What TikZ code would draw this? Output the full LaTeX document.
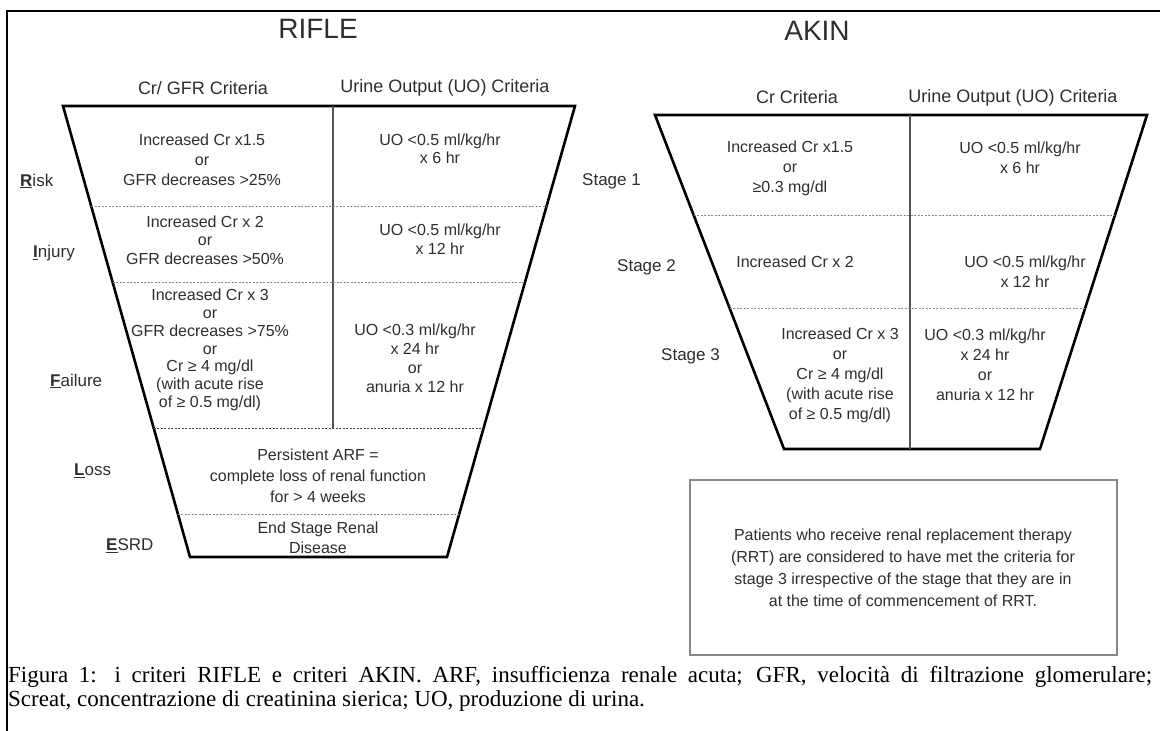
\documentclass[tikz,border=0pt]{standalone}
\usepackage{fontspec}
\setmainfont{Liberation Serif}
\setsansfont{Liberation Sans}
\usetikzlibrary{positioning}
\definecolor{txtgray}{HTML}{2E2E2E}
\definecolor{divgray}{HTML}{555555}
\definecolor{dashgray}{HTML}{8A8A8A}

\begin{document}
\begin{tikzpicture}[x=1pt,y=-1pt,
    title/.style={font=\sffamily\fontsize{28}{30}\selectfont, text=txtgray, inner sep=0pt},
    colhead/.style={font=\sffamily\fontsize{18}{20}\selectfont, text=txtgray, inner sep=0pt},
    cell/.style={font=\sffamily\fontsize{16}{18.5}\selectfont, text=txtgray, align=center, inner sep=0pt},
    stage/.style={font=\sffamily\fontsize{17}{19}\selectfont, text=txtgray, anchor=west, inner sep=0pt},
    funnel/.style={line width=2.6pt, line join=miter},
    split/.style={divgray, line width=1.2pt},
    level/.style={dashgray, line width=0.9pt, dash pattern=on 2pt off 1.5pt}]
    \useasboundingbox (0,0) rectangle (1160,731);

    % Border
    \draw[line width=2.6pt] (7,731) -- (7,11) -- (1160,11);

    % RIFLE funnel
    \draw[funnel] (63,106) -- (575,106) -- (447,557) -- (190,557) -- cycle;
    \draw[split] (333,106) -- (333,428);
    \draw[level] (91.2,206) -- (546.6,206);
    \draw[level] (112.6,282) -- (525.0,282);
    \draw[level, black!75] (153.7,428) -- (483.6,428);
    \draw[level] (177.9,514) -- (459.2,514);

    % AKIN funnel
    \draw[funnel] (655,115) -- (1147,115) -- (1040,449) -- (784,449) -- cycle;
    \draw[split] (910,115) -- (910,449);
    \draw[level] (693.6,215) -- (1115.0,215);
    \draw[level] (729.5,308) -- (1085.2,308);

    % RRT box
    \draw[divgray!70, line width=1.2pt] (690,480) rectangle (1117,655);

    % Titles
    \node[title] (rifle) at (318,29) {RIFLE};
    \node[title] (akin) at (817,31) {AKIN};
    \node[colhead] (crgfr) at (203,88) {Cr/ GFR Criteria};
    \node[colhead] (uoleft) at (445,88) {Urine Output (UO) Criteria};
    \node[colhead] (cr) at (797,97) {Cr Criteria};
    \node[colhead] (uoright) at (1013,98) {Urine Output (UO) Criteria};

    % RIFLE classes
    \node[stage] (risk) at (20,181) {\underline{\textbf{R}}isk};
    \node[stage] (injury) at (33,253) {\underline{\textbf{I}}njury};
    \node[stage] (failure) at (50,381) {\underline{\textbf{F}}ailure};
    \node[stage] (loss) at (74,471) {\underline{\textbf{L}}oss};
    \node[stage] (esrd) at (106,546) {\underline{\textbf{E}}SRD};

    % RIFLE cells
    \node[cell, font=\sffamily\fontsize{16}{20}\selectfont] (riskcr) at (202,160) {Increased Cr x1.5\\or\\GFR decreases >25\%};
    \node[cell] (riskuo) at (440,149) {UO <0.5 ml/kg/hr\\x 6 hr};
    \node[cell] (injcr) at (205,240) {Increased Cr x 2\\or\\GFR decreases >50\%};
    \node[cell] (injuo) at (440,239) {UO <0.5 ml/kg/hr\\x 12 hr};
    \node[cell, font=\sffamily\fontsize{16}{17.8}\selectfont] (failcr) at (210,350) {Increased Cr x 3\\or\\GFR decreases >75\%\\or\\Cr ≥ 4 mg/dl\\(with acute rise\\of ≥ 0.5 mg/dl)};
    \node[cell, font=\sffamily\fontsize{16}{19}\selectfont] (failuo) at (415,358) {UO <0.3 ml/kg/hr\\x 24 hr\\or\\anuria x 12 hr};
    \node[cell, font=\sffamily\fontsize{16}{21}\selectfont] (losstxt) at (318,476) {Persistent ARF =\\complete loss of renal function\\for > 4 weeks};
    \node[cell, font=\sffamily\fontsize{16}{20}\selectfont] (esrdtxt) at (318,538) {End Stage Renal\\Disease};

    % AKIN stages
    \node[stage] (stone) at (582,181) {Stage 1};
    \node[stage] (sttwo) at (617,267) {Stage 2};
    \node[stage] (stthree) at (661,356) {Stage 3};

    % AKIN cells
    \node[cell, font=\sffamily\fontsize{16}{20}\selectfont] (onecr) at (790,168) {Increased Cr x1.5\\or\\≥0.3 mg/dl};
    \node[cell, font=\sffamily\fontsize{16}{20}\selectfont] (oneuo) at (1020,158) {UO <0.5 ml/kg/hr\\x 6 hr};
    \node[cell] (twocr) at (795,262) {Increased Cr x 2};
    \node[cell, font=\sffamily\fontsize{16}{20}\selectfont] (twouo) at (1025,272) {UO <0.5 ml/kg/hr\\x 12 hr};
    \node[cell, font=\sffamily\fontsize{16}{20}\selectfont] (threecr) at (840,375) {Increased Cr x 3\\or\\Cr ≥ 4 mg/dl\\(with acute rise\\of ≥ 0.5 mg/dl)};
    \node[cell, font=\sffamily\fontsize{16}{20}\selectfont] (threeuo) at (985,365) {UO <0.3 ml/kg/hr\\x 24 hr\\or\\anuria x 12 hr};

    % RRT note
    \node[cell, font=\sffamily\fontsize{16}{22}\selectfont] (rrt) at (903,568) {Patients who receive renal replacement therapy\\(RRT) are considered to have met the criteria for\\stage 3 irrespective of the stage that they are in\\at the time of commencement of RRT.};

    % Caption
    \node[anchor=north west, inner sep=0pt, text width=1144pt, align=justify,
          font=\rmfamily\fontsize{23}{24}\selectfont] (caption) at (8,666)
      {Figura 1: i criteri RIFLE e criteri AKIN. ARF, insufficienza renale acuta; GFR, velocità di filtrazione glomerulare;\linebreak
       Screat, concentrazione di creatinina sierica; UO, produzione di urina.};
\end{tikzpicture}
\end{document}
